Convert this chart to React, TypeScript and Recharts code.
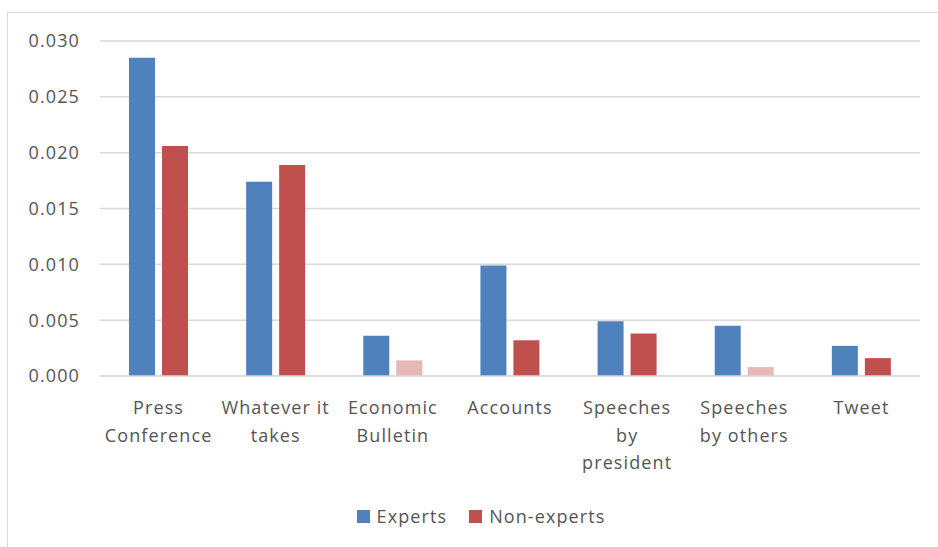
import React from "react";
import { BarChart, Bar, XAxis, YAxis, CartesianGrid, Legend, Cell } from "recharts";

const categories = [
  "Press\nConference",
  "Whatever it\ntakes",
  "Economic\nBulletin",
  "Accounts",
  "Speeches\nby\npresident",
  "Speeches\nby others",
  "Tweet",
];
const experts = [0.0285, 0.0174, 0.0036, 0.0099, 0.0049, 0.0045, 0.0027];
const nonExperts = [0.0206, 0.0189, 0.0014, 0.0032, 0.0038, 0.0008, 0.0016];
// non-expert bars drawn in a faded tone
const nonExpertFaded = [false, false, true, false, false, true, false];
const yTicks = [0, 0.005, 0.01, 0.015, 0.02, 0.025, 0.03];

const BLUE = "#4F81BD";
const RED = "#C0504D";
const PINK = "#E6B9B8";
const GRID = "#D9D9D9";
const TEXT = "#555555";
const FONT = "'Open Sans', sans-serif";

const data = categories.map((name, i) => ({
  name,
  experts: experts[i],
  nonExperts: nonExperts[i],
}));

function CategoryTick({ x, y, payload }: any) {
  const lines = String(payload.value).split("\n");
  return (
    <text
      x={x}
      y={y}
      textAnchor="middle"
      fill={TEXT}
      fontSize={18}
      fontFamily={FONT}
      letterSpacing={1.1}
    >
      {lines.map((l, i) => (
        <tspan key={i} x={x} dy={i === 0 ? 30 : 27.5}>
          {l}
        </tspan>
      ))}
    </text>
  );
}

function LegendContent() {
  const items = [
    { label: "Experts", color: BLUE },
    { label: "Non-experts", color: RED },
  ];
  return (
    <div
      style={{
        display: "flex",
        justifyContent: "center",
        alignItems: "center",
        height: 30,
        paddingLeft: 64,
        fontFamily: FONT,
        fontSize: 18,
        letterSpacing: 1.1,
        color: TEXT,
      }}
    >
      {items.map((it) => (
        <div key={it.label} style={{ display: "flex", alignItems: "center", marginRight: 22 }}>
          <span style={{ width: 13, height: 13, background: it.color, marginRight: 7 }} />
          <span>{it.label}</span>
        </div>
      ))}
    </div>
  );
}

export default function App() {
  return (
    <div style={{ position: "absolute", left: 0, top: 0, width: 938, height: 547, background: "#fff" }}>
      <div
        style={{
          position: "absolute",
          left: 7,
          top: 12,
          width: 960,
          height: 600,
          border: "1.5px solid #D9D9D9",
          boxSizing: "border-box",
        }}
      />
      <div style={{ position: "absolute", left: 0, top: 0 }}>
        <BarChart
          width={938}
          height={547}
          data={data}
          margin={{ top: 41, right: 18, left: 0, bottom: 16 }}
          barSize={26}
          barGap={7}
        >
          <CartesianGrid vertical={false} stroke={GRID} strokeWidth={1.5} />
          <XAxis
            dataKey="name"
            interval={0}
            height={125}
            tickLine={false}
            axisLine={{ stroke: GRID, strokeWidth: 1.5 }}
            tick={<CategoryTick />}
          />
          <YAxis
            width={100}
            domain={[0, 0.03]}
            ticks={yTicks}
            tickFormatter={(v: number) => v.toFixed(3)}
            axisLine={false}
            tickLine={false}
            tickSize={0}
            tickMargin={20}
            tick={{ fill: TEXT, fontSize: 18, fontFamily: FONT, letterSpacing: 1.1 }}
          />
          <Legend verticalAlign="bottom" content={<LegendContent />} wrapperStyle={{ height: 30 }} />
          <Bar dataKey="experts" name="Experts" fill={BLUE} isAnimationActive={false} />
          <Bar dataKey="nonExperts" name="Non-experts" fill={RED} isAnimationActive={false}>
            {data.map((d, i) => (
              <Cell key={d.name} fill={nonExpertFaded[i] ? PINK : RED} />
            ))}
          </Bar>
        </BarChart>
      </div>
    </div>
  );
}
